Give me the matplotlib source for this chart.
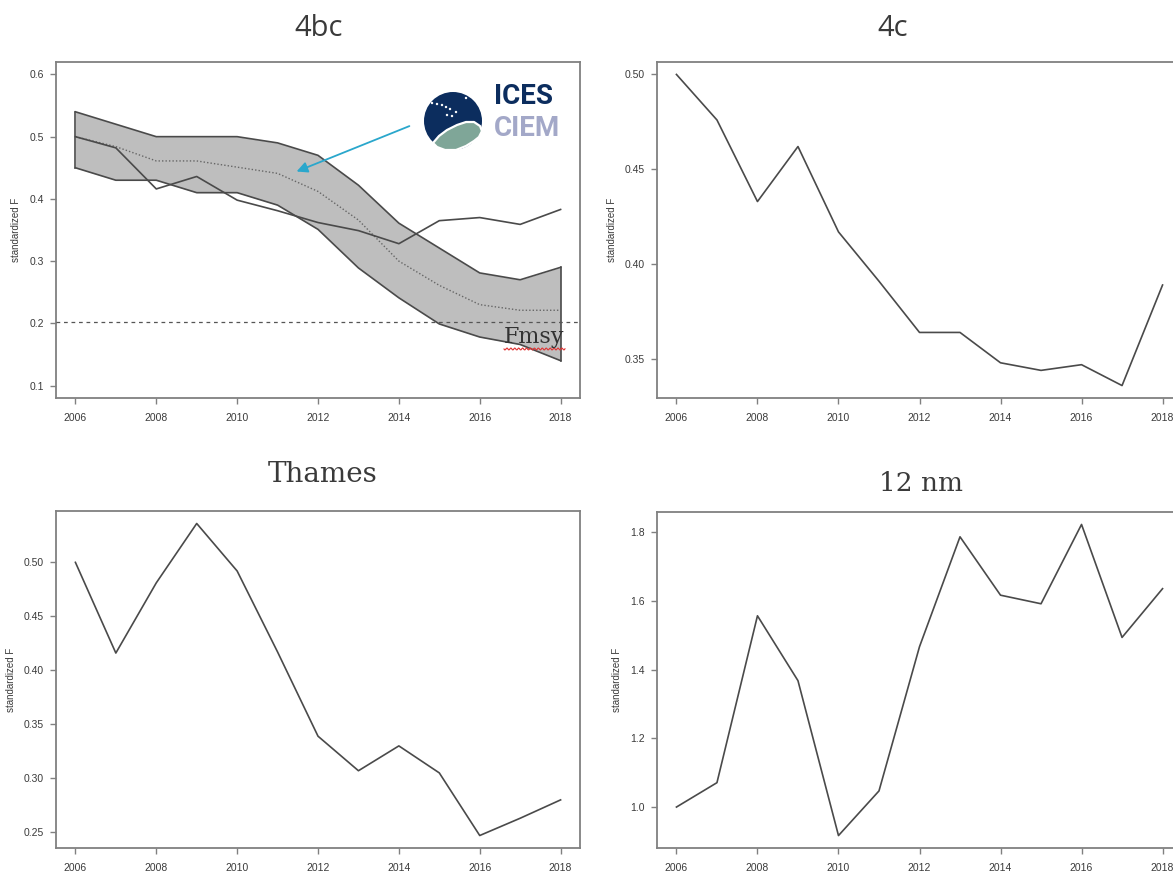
import numpy as np
import matplotlib
matplotlib.use("Agg")
import matplotlib.pyplot as plt
from matplotlib.patches import Circle, Polygon

# ---------------- data ----------------
years = list(range(2006, 2019))

# 4bc panel
f4bc_obs = [0.500, 0.482, 0.416, 0.436, 0.398, 0.381, 0.362, 0.349, 0.328, 0.365, 0.370, 0.359, 0.383]
f4bc_mid = [0.500, 0.484, 0.461, 0.461, 0.451, 0.441, 0.412, 0.366, 0.300, 0.261, 0.230, 0.221, 0.221]
f4bc_upper = [0.540, 0.520, 0.500, 0.500, 0.500, 0.490, 0.470, 0.422, 0.361, 0.321, 0.281, 0.270, 0.290]
f4bc_lower = [0.450, 0.430, 0.430, 0.410, 0.410, 0.390, 0.351, 0.289, 0.241, 0.199, 0.178, 0.166, 0.140]
fmsy = 0.202
ylim_4bc = (0.1, 0.6)

# 4c panel
f4c = [0.500, 0.476, 0.433, 0.462, 0.417, 0.391, 0.364, 0.364, 0.348, 0.344, 0.347, 0.336, 0.389]

# Thames panel
fthames = [0.500, 0.416, 0.481, 0.536, 0.492, 0.417, 0.339, 0.307, 0.330, 0.305, 0.247, 0.263, 0.280]

# 12 nm panel
f12nm = [1.000, 1.071, 1.557, 1.368, 0.917, 1.047, 1.467, 1.787, 1.617, 1.592, 1.823, 1.494, 1.636]

xticks = [2006, 2008, 2010, 2012, 2014, 2016, 2018]
yticks_4bc = [0.1, 0.2, 0.3, 0.4, 0.5, 0.6]
yticks_4c = [0.35, 0.40, 0.45, 0.50]
yticks_thames = [0.25, 0.30, 0.35, 0.40, 0.45, 0.50]
yticks_12nm = [1.0, 1.2, 1.4, 1.6, 1.8]

titles = ["4bc", "4c", "Thames", "12 nm"]

# ---------------- layout ----------------
W, H = 1173, 872
fig = plt.figure(figsize=(W / 100, H / 100), dpi=100)
fig.patch.set_facecolor("white")


def pos(l, t, r, b):
    return [l / W, 1 - b / H, (r - l) / W, (b - t) / H]


LINE = "#4a4a4a"
FRAME = "#808080"
TXT = "#3a3a3a"


def rlim(vals):
    lo, hi = min(vals), max(vals)
    d = (hi - lo) * 0.04
    return lo - d, hi + d


def style(ax, yticks, fmt, ylim):
    ax.set_xlim(*rlim(years))
    ax.set_ylim(*ylim)
    ax.set_xticks(xticks)
    ax.set_xticklabels([str(x) for x in xticks])
    ax.set_yticks(yticks)
    ax.set_yticklabels([fmt.format(v) for v in yticks])
    for s in ax.spines.values():
        s.set_color(FRAME)
        s.set_linewidth(1.3)
    ax.tick_params(direction="out", length=4.5, width=1.0, color=FRAME,
                   labelsize=7.5, labelcolor=TXT, pad=4)
    ax.tick_params(axis="x", pad=6)
    for lab in ax.get_xticklabels() + ax.get_yticklabels():
        lab.set_family("Liberation Sans")
    ax.set_ylabel("standardized F", fontsize=7, color=TXT, family="Liberation Sans", labelpad=6)


ax1 = fig.add_axes(pos(56, 62, 580, 398))
ax2 = fig.add_axes(pos(657, 62, 1182, 398))
ax3 = fig.add_axes(pos(56, 511, 580, 848))
ax4 = fig.add_axes(pos(657, 512, 1182, 848))

# panel 1
ax1.fill_between(years, f4bc_lower, f4bc_upper, color="#bebebe", lw=0, zorder=1)
ax1.plot(years, f4bc_upper, color=LINE, lw=1.2, zorder=2)
ax1.plot(years, f4bc_lower, color=LINE, lw=1.2, zorder=2)
ax1.plot([years[0], years[0]], [f4bc_lower[0], f4bc_upper[0]], color=LINE, lw=1.2, zorder=2)
ax1.plot([years[-1], years[-1]], [f4bc_lower[-1], f4bc_upper[-1]], color=LINE, lw=1.2, zorder=2)
ax1.plot(years, f4bc_mid, color="#666666", lw=1.0, ls=(0, (1, 1.5)), zorder=3)
ax1.plot(years, f4bc_obs, color=LINE, lw=1.2, zorder=4)
ax1.axhline(fmsy, color="#555555", lw=0.9, ls=(0, (3, 3)), zorder=3)
lo1, hi1 = ylim_4bc
d1 = (hi1 - lo1) * 0.04
style(ax1, yticks_4bc, "{:.1f}", (lo1 - d1, hi1 + d1))

ax1.annotate("", xy=(2011.47, 0.444), xytext=(2014.26, 0.517),
             xycoords="data", textcoords="data",
             arrowprops=dict(arrowstyle="-|>", color="#2aa7cc", lw=1.3,
                             mutation_scale=16, shrinkA=0, shrinkB=0), zorder=6)

# panel 2
ax2.plot(years, f4c, color=LINE, lw=1.2)
style(ax2, yticks_4c, "{:.2f}", rlim(f4c))

# panel 3
ax3.plot(years, fthames, color=LINE, lw=1.2)
style(ax3, yticks_thames, "{:.2f}", rlim(fthames))

# panel 4
ax4.plot(years, f12nm, color=LINE, lw=1.2)
style(ax4, yticks_12nm, "{:.1f}", rlim(f12nm))

# titles
fig.text(319 / W, 1 - 29 / H, titles[0], ha="center", va="center", fontsize=21,
         family="Open Sans", color=TXT)
fig.text(893 / W, 1 - 29 / H, titles[1], ha="center", va="center", fontsize=21,
         family="Open Sans", color=TXT)
fig.text(323 / W, 1 - 474 / H, titles[2], ha="center", va="center", fontsize=20,
         family="DejaVu Serif", color=TXT)
fig.text(921 / W, 1 - 483 / H, titles[3], ha="center", va="center", fontsize=19,
         family="DejaVu Serif", color=TXT)

# overlay in pixel coordinates for logo & annotations
ov = fig.add_axes([0, 0, 1, 1], zorder=10)
ov.set_xlim(0, W)
ov.set_ylim(H, 0)
ov.axis("off")
ov.patch.set_alpha(0)

NAVY = "#0c2d5e"
GREEN = "#7fa698"
ov.add_patch(Circle((453, 121), 29, color=NAVY, lw=0))
wave = Polygon([(433, 143), (439, 136), (447, 130), (457, 125), (466, 122), (474, 122),
                (480, 126), (482, 131), (479, 137), (474, 141), (466, 146), (456, 150),
                (445, 150), (437, 147)],
               closed=True, facecolor=GREEN, edgecolor="white", lw=1.6, joinstyle="round")
ov.add_patch(wave)
dots = [(432, 103), (437, 104), (442, 105), (446, 107), (450, 109), (447, 115),
        (452, 116), (456, 112), (466, 98)]
for dx, dy in dots:
    ov.add_patch(Circle((dx, dy), 1.2, color="white", lw=0))
ov.text(494, 96, "ICES", ha="left", va="center", fontsize=20, fontweight="bold",
        family="Roboto", color=NAVY)
ov.text(494, 128, "CIEM", ha="left", va="center", fontsize=20, fontweight="bold",
        family="Roboto", color="#a3a8c8")

# Fmsy label with wavy underline
ov.text(534, 337, "Fmsy", ha="center", va="center", fontsize=16,
        family="DejaVu Serif", color="#333333")
wx = np.linspace(504, 565, 80)
ov.plot(wx, 349 + 1.0 * np.sin((wx - 504) * 1.6), color="#e03030", lw=0.8)

fig.savefig("out.png", dpi=100)
